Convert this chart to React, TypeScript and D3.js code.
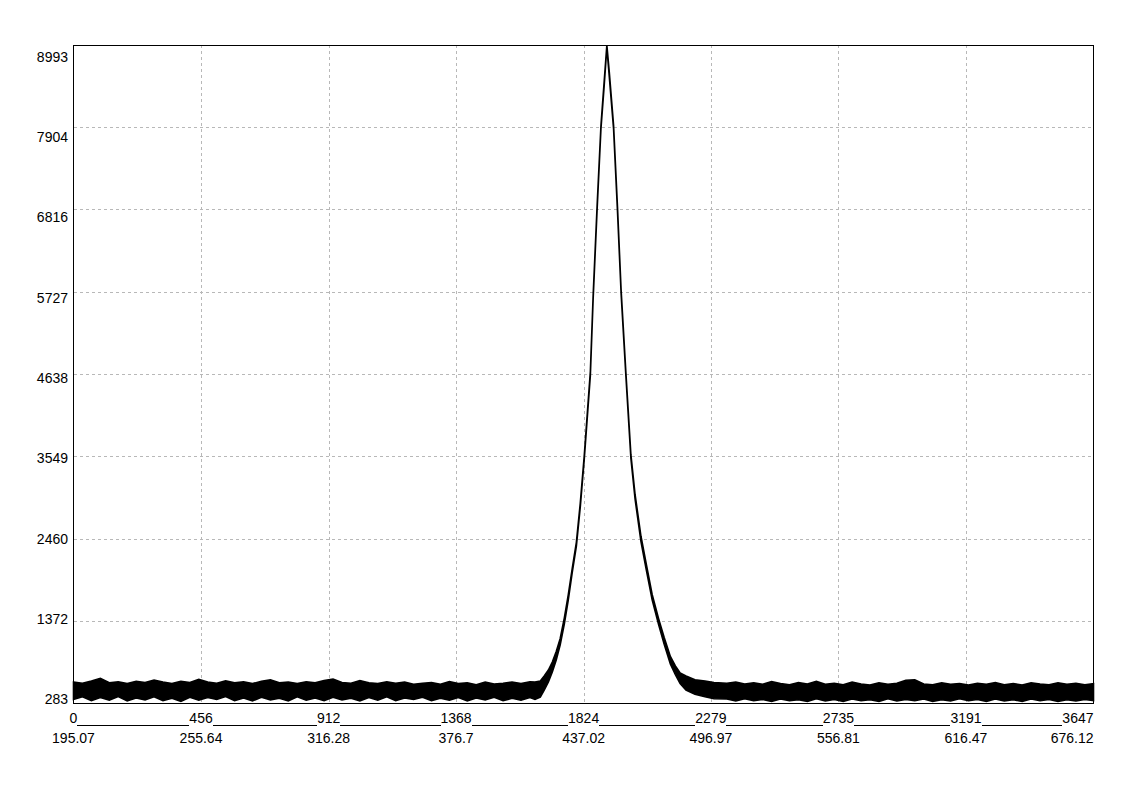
import React from "react";
import * as d3 from "d3";

// ---- Data ----
// Pixel index axis ticks and matching wavelength labels
const indexTicks = [0, 456, 912, 1368, 1824, 2279, 2735, 3191, 3647];
const wavelengthLabels = ["195.07", "255.64", "316.28", "376.7", "437.02", "496.97", "556.81", "616.47", "676.12"];
// Count axis ticks
const countTicks = [283, 1372, 2460, 3549, 4638, 5727, 6816, 7904, 8993];

// Envelope of the noisy spectrum (max / min counts around each sample index)
const leftIndex = [0, 32, 64, 96, 128, 160, 192, 224, 256, 288, 320, 352, 384, 416, 448, 480, 512, 544, 576, 608, 640, 672, 704, 736, 768, 800, 832, 864, 896, 928, 960, 992, 1024, 1056, 1088, 1120, 1152, 1184, 1216, 1248, 1280, 1312, 1344, 1376, 1408, 1440, 1472, 1504, 1536, 1568, 1600, 1632];
const leftUpper = [560, 545, 575, 610, 550, 565, 540, 570, 555, 585, 560, 540, 570, 555, 595, 560, 545, 575, 550, 565, 540, 570, 590, 550, 560, 540, 565, 550, 580, 600, 555, 545, 580, 550, 540, 565, 545, 560, 530, 545, 555, 530, 565, 540, 550, 525, 560, 535, 545, 560, 540, 565];
const leftLower = [330, 365, 315, 355, 320, 370, 310, 350, 325, 365, 315, 345, 305, 360, 320, 355, 330, 370, 315, 350, 310, 360, 325, 345, 310, 365, 320, 350, 315, 360, 325, 345, 310, 355, 320, 365, 315, 350, 330, 360, 315, 345, 320, 355, 310, 350, 325, 360, 315, 345, 320, 355];

const peakIndex = [1650, 1669, 1683, 1698, 1712, 1726, 1740, 1755, 1769, 1783, 1798, 1812, 1826, 1837, 1848, 1858, 1872, 1886, 1897, 1907, 1916, 1931, 1945, 1958, 1975, 1993, 2008, 2029, 2048, 2069, 2092, 2112, 2134, 2152, 2169, 2190, 2222, 2258, 2290];
const peakUpper = [560, 575, 640, 720, 825, 965, 1135, 1410, 1715, 2060, 2410, 2930, 3550, 4110, 4670, 5680, 6850, 7935, 8490, 8993, 8620, 7935, 6850, 5750, 4660, 3570, 3040, 2490, 2120, 1720, 1400, 1150, 900, 775, 680, 640, 590, 575, 555];
const peakLower = [330, 362, 455, 561, 693, 852, 1051, 1329, 1646, 2004, 2360, 2880, 3500, 4060, 4620, 5630, 6800, 7890, 8430, 8960, 8560, 7885, 6795, 5700, 4615, 3520, 2980, 2420, 2045, 1650, 1320, 1060, 800, 660, 540, 455, 400, 365, 340];

const rightIndex = [2336, 2368, 2400, 2432, 2464, 2496, 2528, 2560, 2592, 2624, 2656, 2688, 2720, 2752, 2784, 2816, 2848, 2880, 2912, 2944, 2976, 3008, 3040, 3072, 3104, 3136, 3168, 3200, 3232, 3264, 3296, 3328, 3360, 3392, 3424, 3456, 3488, 3520, 3552, 3584, 3616, 3647];
const rightUpper = [545, 560, 535, 550, 530, 565, 540, 525, 555, 535, 570, 530, 545, 525, 560, 535, 520, 550, 530, 545, 585, 590, 535, 525, 550, 530, 540, 520, 545, 530, 555, 525, 540, 520, 550, 535, 525, 550, 530, 545, 525, 540];
const rightLower = [335, 310, 340, 315, 330, 305, 335, 315, 325, 305, 340, 310, 330, 305, 335, 315, 325, 305, 340, 310, 330, 315, 335, 305, 325, 310, 340, 315, 330, 305, 335, 310, 325, 305, 335, 315, 330, 305, 325, 310, 330, 315];

const sampleIndex = [...leftIndex, ...peakIndex, ...rightIndex];
const upperCounts = [...leftUpper, ...peakUpper, ...rightUpper];
const lowerCounts = [...leftLower, ...peakLower, ...rightLower];

// ---- Layout ----
const W = 1147;
const H = 800;
const L = 73.5;
const R = 1093.5;
const T = 45;
const B = 703;
const FS = 14;

const textWidth = (s: string) =>
  s.split("").reduce((a, c) => a + (c === "." ? 0.278 : 0.556) * FS, 0);

export default function App() {
  const x = d3.scaleLinear().domain([0, 3647]).range([L, R]);
  const y = d3.scaleLinear().domain([283, 8993]).range([B, T]);
  // labels on the count axis are spread slightly inside the plot height
  const yLabel = d3.scaleLinear().domain([283, 8993]).range([701, 59]);

  const area = d3
    .area<number>()
    .x((_, i) => x(sampleIndex[i]))
    .y0((_, i) => y(lowerCounts[i]))
    .y1((_, i) => y(upperCounts[i]));
  const areaPath = area(sampleIndex) || "";

  const topLabels = indexTicks.map((t) => {
    const s = String(t);
    const w = textWidth(s);
    let cx = x(t);
    if (cx + w / 2 > R) cx = R - w / 2;
    return { s, w, cx };
  });
  const bottomLabels = indexTicks.map((t, i) => {
    const s = wavelengthLabels[i];
    const w = textWidth(s);
    let cx = x(t);
    if (cx + w / 2 > R) cx = R - w / 2;
    return { s, w, cx };
  });

  const font = "Arial, 'Liberation Sans', sans-serif";

  return (
    <svg
      width={W}
      height={H}
      style={{ position: "absolute", left: 0, top: 0, display: "block", background: "#fff" }}
    >
      <rect x={0} y={0} width={W} height={H} fill="#fff" />
      <g stroke="#b8b8b8" strokeWidth={1} strokeDasharray="3,3" shapeRendering="crispEdges">
        {indexTicks.slice(1, -1).map((t) => (
          <line key={"v" + t} x1={Math.round(x(t)) + 0.5} x2={Math.round(x(t)) + 0.5} y1={T} y2={B} />
        ))}
        {countTicks.slice(1, -1).map((c) => (
          <line key={"h" + c} x1={L} x2={R} y1={Math.round(y(c)) + 0.5} y2={Math.round(y(c)) + 0.5} />
        ))}
      </g>
      <path d={areaPath} fill="#000" stroke="#000" strokeWidth={1.6} strokeLinejoin="miter" />
      <rect x={L} y={T + 0.5} width={R - L} height={B - T} fill="none" stroke="#000" strokeWidth={1} shapeRendering="crispEdges" />
      <g fontFamily={font} fontSize={FS} fill="#000" textAnchor="end">
        {countTicks.map((c) => (
          <text key={"yl" + c} x={68} y={yLabel(c) + 3}>
            {c}
          </text>
        ))}
      </g>
      <g fontFamily={font} fontSize={FS} fill="#000">
        {topLabels.map((d) => (
          <text key={"xt" + d.s} x={d.cx} y={723} textAnchor="middle">
            {d.s}
          </text>
        ))}
        {bottomLabels.map((d) => (
          <text key={"xb" + d.s} x={d.cx} y={743} textAnchor="middle">
            {d.s}
          </text>
        ))}
      </g>
      <g stroke="#000" strokeWidth={1} shapeRendering="crispEdges">
        {topLabels.slice(0, -1).map((d, i) => {
          const n = topLabels[i + 1];
          return (
            <line key={"u" + i} x1={d.cx + d.w / 2} x2={n.cx - n.w / 2} y1={725.5} y2={725.5} />
          );
        })}
      </g>
    </svg>
  );
}
